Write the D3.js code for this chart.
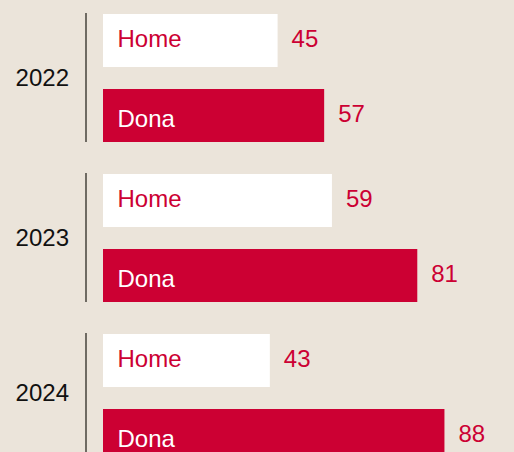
<!DOCTYPE html>
<html>
<head>
<meta charset="utf-8">
<script src="https://cdn.jsdelivr.net/npm/d3@7"></script>
<style>
  html, body { margin: 0; padding: 0; background: #ebe4da; overflow: hidden; }
  svg { display: block; }
  text { font-family: "Liberation Sans", Arial, Helvetica, sans-serif; }
</style>
</head>
<body>
<svg id="chart"></svg>
<script>
// ---- data ----
const years = ["2022", "2023", "2024"];
const seriesNames = ["Home", "Dona"];
const homeValues = [45, 59, 43];
const donaValues = [57, 81, 88];

// ---- layout / style ----
const W = 514, H = 452;
const colors = { Home: "#ffffff", Dona: "#cc0033" };
const labelColors = { Home: "#cc0033", Dona: "#ffffff" };
const labelBaseline = { Home: 32.7, Dona: 37.7 };
const fontSize = 24;

const rows = years.map((y, i) => ({
  year: y,
  values: [
    { key: "Home", value: homeValues[i] },
    { key: "Dona", value: donaValues[i] }
  ]
}));

const svg = d3.select("#chart").attr("width", W).attr("height", H);
svg.append("rect").attr("width", W).attr("height", H).attr("fill", "#ebe4da");

const y0 = d3.scaleBand().domain(years).range([14, 462]).paddingInner(0.2).paddingOuter(0);
const y1 = d3.scaleBand().domain(seriesNames).range([0, y0.bandwidth()]).paddingInner(22 / 75).paddingOuter(0);
const x = d3.scaleLinear().domain([0, 100]).range([103, 491]);

const g = svg.selectAll("g.group").data(rows).join("g")
  .attr("class", "group")
  .attr("transform", d => `translate(0,${y0(d.year)})`);

// vertical separator line
g.append("line")
  .attr("x1", 86).attr("x2", 86)
  .attr("y1", -1).attr("y2", y0.bandwidth())
  .attr("stroke", "#6f6b63").attr("stroke-width", 2);

// year labels, centred on the visible part of the line
g.append("text")
  .attr("x", 69)
  .attr("y", d => {
    const top = y0(d.year) - 1;
    const bot = Math.min(y0(d.year) + y0.bandwidth(), H);
    return (top + bot) / 2 - y0(d.year) + 8;
  })
  .attr("text-anchor", "end")
  .attr("font-size", fontSize)
  .attr("fill", "#111")
  .text(d => d.year);

const bars = g.selectAll("g.bar").data(d => d.values).join("g")
  .attr("class", "bar")
  .attr("transform", d => `translate(0,${y1(d.key)})`);

bars.append("rect")
  .attr("x", x(0))
  .attr("y", 0)
  .attr("width", d => x(d.value) - x(0))
  .attr("height", y1.bandwidth())
  .attr("fill", d => colors[d.key]);

bars.append("text")
  .attr("x", x(0) + 14.5)
  .attr("y", d => labelBaseline[d.key])
  .attr("font-size", fontSize)
  .attr("fill", d => labelColors[d.key])
  .text(d => d.key);

bars.append("text")
  .attr("x", d => x(d.value) + 14)
  .attr("y", 32.5)
  .attr("font-size", fontSize)
  .attr("fill", "#cc0033")
  .text(d => d.value);
</script>
</body>
</html>
